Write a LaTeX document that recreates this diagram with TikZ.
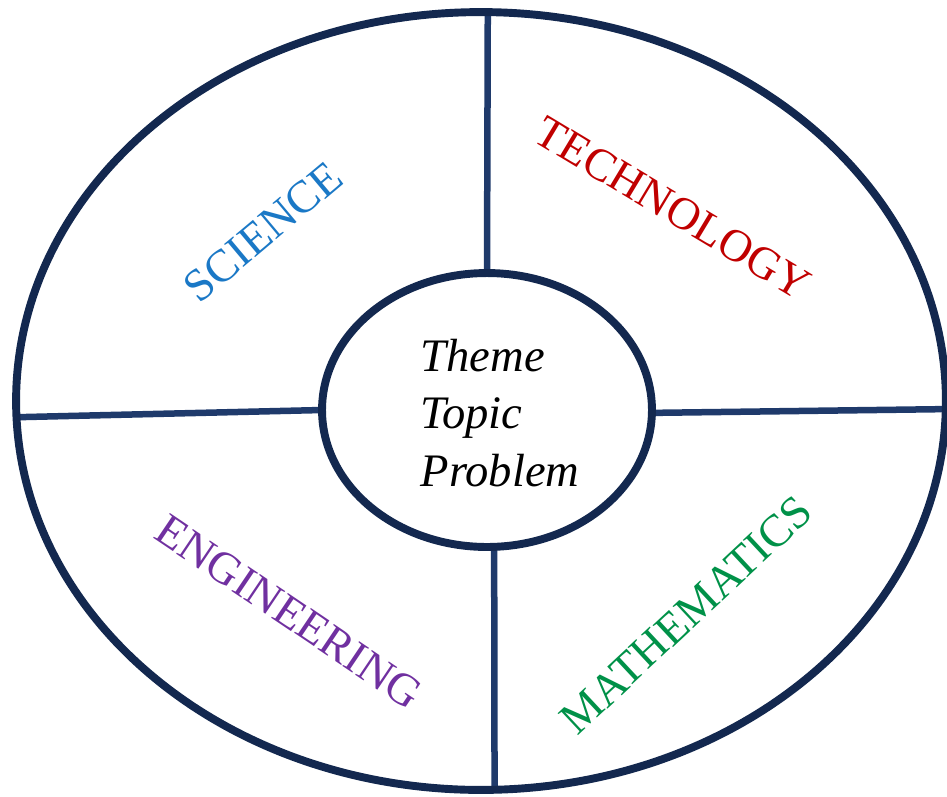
\documentclass[tikz,border=0pt]{standalone}
\usepackage{fontspec}
\setmainfont{Liberation Serif}
\usetikzlibrary{shapes.geometric}

\definecolor{ringnavy}{HTML}{13284F}
\definecolor{spokenavy}{HTML}{1F3A6B}
\definecolor{scicol}{HTML}{1A78C6}
\definecolor{techcol}{HTML}{C00000}
\definecolor{engcol}{HTML}{7030A0}
\definecolor{mathcol}{HTML}{009148}

\tikzset{
  ring/.style={ellipse, draw=ringnavy, line width=4.5pt, inner sep=0pt, outer sep=0pt},
  spoke/.style={draw=spokenavy, line width=3.7pt},
  field/.style={font=\fontsize{26}{30}\selectfont, inner sep=0pt},
  core/.style={font=\fontsize{26.5}{32.6}\selectfont\itshape, align=left, inner sep=0pt}
}

\begin{document}
\begin{tikzpicture}[x=0.02cm, y=-0.02cm]
  \useasboundingbox (0,0) rectangle (947,796);
  \clip (0,0) rectangle (947,796);

  % invisible ring outlines used to place the spoke ends
  \node[ring, minimum width=18.6cm, minimum height=15.56cm, draw=none] (outerA) at (481,401) {};
  \node[ring, minimum width=6.6cm, minimum height=5.48cm, draw=none] (innerA) at (487,410) {};

  % spokes first, so the rings sit on top of their ends
  \draw[spoke] (innerA.90.8) -- (outerA.89.4);
  \draw[spoke] (innerA.273.3) -- (outerA.272.1);
  \draw[spoke] (innerA.180.7) -- (outerA.182.3);
  \draw[spoke] (innerA.359.3) -- (outerA.359.8);

  % outer and inner rings
  \node[ring, minimum width=18.6cm, minimum height=15.56cm] (outer) at (481,401) {};
  \node[ring, fill=white, minimum width=6.6cm, minimum height=5.48cm] (inner) at (487,410) {};

  % central text
  \node[core] (centre) at (500,413) {Theme\\Topic\\Problem};

  % quadrant labels
  \node[field, text=scicol, rotate=40] (sci) at (263,232) {SCIENCE};
  \node[field, text=techcol, rotate=-31] (tech) at (673,208) {TECHNOLOGY};
  \node[field, text=engcol, rotate=-34] (eng) at (289,612) {ENGINEERING};
  \node[field, text=mathcol, rotate=43] (math) at (686,615) {MATHEMATICS};
\end{tikzpicture}
\end{document}
